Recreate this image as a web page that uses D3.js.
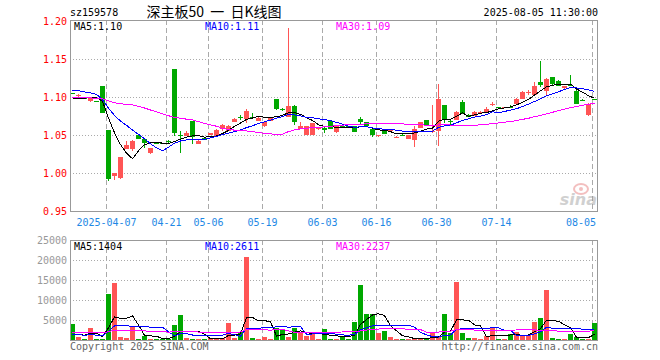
<!DOCTYPE html>
<html>
<head>
<meta charset="utf-8">
<script src="https://cdn.jsdelivr.net/npm/d3@7"></script>
<style>
  body { margin: 0; background: #fff; }
  text { font-family: "DejaVu Sans Mono", monospace; font-size: 10px; }
</style>
</head>
<body>
<div id="chart"></div>
<script>
// daily candles, sz159578, 2025-03-27 .. 2025-08-05
const open = [1.105, 1.1022, 1.0985, 1.0956, 1.0945, 1.1153, 1.0575, 0.9963, 0.9932, 1.0326,
  1.033, 1.0505, 1.0457, 1.0265, 1.0405, 1.0402, 1.0425, 1.1376, 1.050, 1.0488,
  1.0685, 1.039, 1.0465, 1.0505, 1.049, 1.0584, 1.0562, 1.0685, 1.0745, 1.0707,
  1.0738, 1.0694, 1.0624, 1.0698, 1.0982, 1.0842, 1.075, 1.089, 1.0584, 1.0505,
  1.0505, 1.0575, 1.060, 1.0694, 1.0533, 1.0625, 1.062, 1.0624, 1.0716, 1.0677,
  1.0585, 1.0495, 1.0572, 1.0553, 1.0475, 1.051, 1.045, 1.044, 1.0598, 1.070,
  1.054, 1.0559, 1.090, 1.0685, 1.0703, 1.0943, 1.0772, 1.076, 1.0798, 1.080,
  1.0905, 1.0872, 1.0868, 1.0877, 1.0917, 1.098, 1.105, 1.1035, 1.1197, 1.109,
  1.1262, 1.122, 1.1114, 1.1166, 1.1088, 1.097, 1.0772, 1.0972];
const high = [1.1055, 1.1045, 1.099, 1.0995, 1.0955, 1.1153, 1.0575, 1.001, 1.0215, 1.042,
  1.044, 1.051, 1.046, 1.0335, 1.0405, 1.0405, 1.044, 1.1376, 1.0555, 1.0555,
  1.0685, 1.0444, 1.047, 1.0535, 1.0585, 1.0645, 1.063, 1.0725, 1.077, 1.084,
  1.0795, 1.0735, 1.068, 1.074, 1.0982, 1.086, 1.1915, 1.0895, 1.0676, 1.0625,
  1.0665, 1.061, 1.061, 1.0695, 1.062, 1.063, 1.0625, 1.0625, 1.0747, 1.068,
  1.059, 1.0505, 1.0575, 1.0588, 1.049, 1.0512, 1.051, 1.0616, 1.068, 1.0705,
  1.0904, 1.1175, 1.0905, 1.0715, 1.0815, 1.096, 1.0775, 1.0815, 1.082, 1.087,
  1.0935, 1.0875, 1.0875, 1.0895, 1.0985, 1.108, 1.109, 1.1205, 1.148, 1.125,
  1.1265, 1.1225, 1.115, 1.129, 1.109, 1.098, 1.092, 1.0975];
const low = [1.104, 1.101, 1.0975, 1.0934, 1.0935, 1.079, 0.990, 0.991, 0.992, 1.032,
  1.029, 1.045, 1.0335, 1.025, 1.0395, 1.0395, 1.040, 1.0497, 1.027, 1.0485,
  1.0387, 1.038, 1.044, 1.050, 1.0485, 1.0553, 1.0555, 1.0678, 1.0707, 1.0663,
  1.0715, 1.069, 1.061, 1.0695, 1.0838, 1.0815, 1.0735, 1.064, 1.058, 1.050,
  1.050, 1.057, 1.053, 1.058, 1.053, 1.0615, 1.0605, 1.0545, 1.0646, 1.0625,
  1.0476, 1.048, 1.0515, 1.055, 1.0465, 1.050, 1.0445, 1.034, 1.0595, 1.063,
  1.0532, 1.0354, 1.066, 1.064, 1.070, 1.0785, 1.074, 1.0755, 1.0785, 1.0795,
  1.089, 1.0865, 1.0865, 1.0855, 1.0915, 1.0975, 1.103, 1.102, 1.114, 1.1026,
  1.1165, 1.115, 1.111, 1.1153, 1.091, 1.095, 1.076, 1.0965];
const close = [1.1045, 1.1027, 1.098, 1.099, 1.094, 1.080, 0.993, 1.0007, 1.0212, 1.0378,
  1.043, 1.0455, 1.040, 1.0335, 1.040, 1.0398, 1.042, 1.054, 1.0495, 1.0527,
  1.048, 1.043, 1.0445, 1.053, 1.0575, 1.064, 1.0628, 1.072, 1.074, 1.0816,
  1.0733, 1.0729, 1.0672, 1.0733, 1.0847, 1.0838, 1.089, 1.0685, 1.062, 1.062,
  1.0663, 1.0606, 1.0575, 1.0584, 1.0616, 1.062, 1.061, 1.055, 1.0672, 1.0629,
  1.0507, 1.050, 1.052, 1.0584, 1.048, 1.0505, 1.0507, 1.0585, 1.0677, 1.0637,
  1.0555, 1.0978, 1.0716, 1.068, 1.0812, 1.079, 1.0742, 1.0812, 1.0802, 1.0845,
  1.091, 1.0868, 1.0872, 1.0873, 1.098, 1.1075, 1.1065, 1.1153, 1.1153, 1.1245,
  1.117, 1.1153, 1.1144, 1.1162, 1.0917, 1.0965, 1.0917, 1.0968];
const volume = [4000, 830, 200, 3000, 200, 200, 11450, 14200, 750, 500,
  3250, 170, 1000, 170, 170, 170, 170, 3750, 6200, 500,
  170, 170, 170, 420, 420, 420, 4200, 580, 2100, 20650,
  580, 170, 820, 330, 3100, 2450, 830, 3100, 1900, 950,
  1450, 330, 2750, 330, 330, 660, 330, 4450, 13650, 6450,
  6450, 1820, 2230, 750, 250, 250, 330, 250, 250, 500,
  1820, 750, 6450, 1650, 14400, 1820, 500, 500, 330, 1000,
  3230, 250, 250, 1580, 2080, 1080, 1150, 4480, 5400, 12600,
  600, 300, 300, 1500, 800, 150, 250, 4320];

// sessions before the window, only used so the moving averages start right
const prevClose = [1.100, 1.106, 1.104, 1.105, 1.1037, 1.075, 1.070, 1.066, 1.062, 1.0627,
  1.100, 1.108, 1.112, 1.115, 1.118, 1.116, 1.115, 1.090, 1.085, 1.0804,
  1.108, 1.112, 1.114, 1.1117, 1.150, 1.104, 1.098, 1.095, 1.094];
const prevVol = [1800, 2600, 3100, 1500, 2200, 2900, 1700, 2400, 3300, 2000,
  1600, 2500, 2800, 1900, 2300, 2100, 2700, 1800, 2400, 2400,
  1200, 1800, 1500, 1400, 1600, 600, 700, 500, 600];

const tickIdx = [6, 16, 23, 32, 42, 51, 61, 71, 87];
const tickLabel = ["2025-04-07", "04-21", "05-06", "05-19", "06-03", "06-16", "06-30", "07-14", "08-05"];
const priceTicks = [0.95, 1.00, 1.05, 1.10, 1.15, 1.20];
const volTicks = [5000, 10000, 15000, 20000, 25000];
const maPeriods = [5, 10, 30];
const maColors = ["#000", "#0000ff", "#ff00ff"];
const priceMaText = ["1.10", "1.11", "1.09"];
const volMaText = ["1404", "2611", "2237"];

const RED = "#ff5555", GREEN = "#00a800";
const left = 70, right = 598;
const n = close.length;

var svg = d3.select("#chart").append("svg")
  .attr("width", 660)
  .attr("height", 360);

var x = d3.scaleBand()
  .domain(d3.range(n))
  .range([left, left + 6 * n - 1])
  .paddingInner(1 / 6);

var y = d3.scaleLinear().domain([0.95, 1.20]).range([211.3, 21.3]);
var yv = d3.scaleLinear().domain([0, 25000]).range([340, 240]);

// moving average over the window, using earlier sessions where needed
function movingAvg(hist, vals, k) {
  var all = hist.concat(vals);
  var off = hist.length;
  return vals.map((d, i) => d3.mean(all.slice(off + i - k + 1, off + i + 1)));
}

function crisp(v) { return Math.round(v) + 0.5; }

// ---------- grid ----------
function drawGrid(top, bottom, yScale, ticks) {
  var g = svg.append("g").attr("shape-rendering", "crispEdges");
  g.selectAll(".h").data(ticks).enter().append("line")
    .attr("x1", left).attr("x2", right)
    .attr("y1", d => crisp(yScale(d))).attr("y2", d => crisp(yScale(d)))
    .attr("stroke", "#aaa")
    .attr("stroke-dasharray", "1,2");
  g.selectAll(".v").data(tickIdx).enter().append("line")
    .attr("x1", d => x(d) + 0.5).attr("x2", d => x(d) + 0.5)
    .attr("y1", top).attr("y2", bottom)
    .attr("stroke", "#aaa")
    .attr("stroke-dasharray", "5,3");
}
drawGrid(20, 211, y, priceTicks.slice(1, -1));
drawGrid(240, 340, yv, volTicks.slice(0, -1));

// ---------- candles ----------
var candles = svg.append("g").attr("shape-rendering", "crispEdges");
var idx = d3.range(n);
var color = i => close[i] >= open[i] ? RED : GREEN;

candles.selectAll("line").data(idx).enter().append("line")
  .attr("x1", i => x(i) + 2.5).attr("x2", i => x(i) + 2.5)
  .attr("y1", i => y(high[i])).attr("y2", i => y(low[i]))
  .attr("stroke", color);

candles.selectAll("rect").data(idx).enter().append("rect")
  .attr("x", i => x(i))
  .attr("y", i => Math.round(y(Math.max(open[i], close[i]))))
  .attr("width", x.bandwidth())
  .attr("height", i => Math.max(1, Math.round(Math.abs(y(open[i]) - y(close[i])))))
  .attr("fill", color);

// ---------- volume bars ----------
svg.append("g").attr("shape-rendering", "crispEdges")
  .selectAll("rect").data(idx).enter().append("rect")
  .attr("x", i => x(i))
  .attr("y", i => Math.round(yv(volume[i])))
  .attr("width", x.bandwidth())
  .attr("height", i => 340 - Math.round(yv(volume[i])))
  .attr("fill", color);

// ---------- moving average lines ----------
function drawMA(hist, vals, yScale) {
  maPeriods.forEach(function(k, j) {
    var ma = movingAvg(hist, vals, k);
    var line = d3.line()
      .x((d, i) => x(i) + 2.5)
      .y(d => yScale(d));
    svg.append("path")
      .attr("d", line(ma))
      .attr("fill", "none")
      .attr("stroke", maColors[j])
      .attr("stroke-width", 1)
      .attr("shape-rendering", "crispEdges");
  });
}
drawMA(prevClose, close, y);
drawMA(prevVol, volume, yv);

// ---------- frames ----------
svg.append("rect")
  .attr("x", 70.5).attr("y", 20.5).attr("width", 527).attr("height", 191)
  .attr("fill", "none").attr("stroke", "#999").attr("shape-rendering", "crispEdges");
svg.append("rect")
  .attr("x", 70.5).attr("y", 240.5).attr("width", 527).attr("height", 100)
  .attr("fill", "none").attr("stroke", "#999").attr("shape-rendering", "crispEdges");

// ---------- axis labels ----------
svg.selectAll(".py").data(priceTicks).enter().append("text")
  .attr("x", 67).attr("y", d => y(d) + 4)
  .attr("text-anchor", "end")
  .attr("fill", "#ff0000")
  .text(d => d.toFixed(2));

svg.selectAll(".vy").data(volTicks).enter().append("text")
  .attr("x", 67).attr("y", d => yv(d) + 4)
  .attr("text-anchor", "end")
  .attr("fill", "#999")
  .text(d => d);

svg.selectAll(".xl").data(tickIdx).enter().append("text")
  .attr("x", function(d, i) {
    var half = tickLabel[i].length * 3.01;
    return Math.min(x(d) + 0.5, 596 - half);
  })
  .attr("y", 226)
  .attr("text-anchor", "middle")
  .attr("fill", "#1e88e5")
  .text((d, i) => tickLabel[i]);

// ---------- legends ----------
var maX = [74, 205, 336];
maPeriods.forEach(function(k, j) {
  svg.append("text").attr("x", maX[j]).attr("y", 30)
    .attr("fill", maColors[j]).text("MA" + k + ":" + priceMaText[j]);
  svg.append("text").attr("x", maX[j]).attr("y", 250)
    .attr("fill", maColors[j]).text("MA" + k + ":" + volMaText[j]);
});

// ---------- header / footer ----------
svg.append("text").attr("x", 70).attr("y", 16).attr("fill", "#000").text("sz159578");
svg.append("text").attr("x", 214).attr("y", 17)
  .attr("text-anchor", "middle")
  .style("font-family", "'Noto Sans CJK SC', sans-serif")
  .style("font-size", "14px")
  .style("white-space", "pre")
  .text("深主板50  一  日K线图");
svg.append("text").attr("x", 598).attr("y", 16)
  .attr("text-anchor", "end").text("2025-08-05 11:30:00");

svg.append("text").attr("x", 70).attr("y", 350).attr("fill", "#666").text("Copyright 2025 SINA.COM");
svg.append("text").attr("x", 598).attr("y", 350)
  .attr("text-anchor", "end").attr("fill", "#666").text("http://finance.sina.com.cn");

// sina watermark
var logo = svg.append("g").attr("opacity", 0.45);
logo.append("ellipse").attr("cx", 581).attr("cy", 189).attr("rx", 7).attr("ry", 5)
  .attr("fill", "none").attr("stroke", "#e57373").attr("stroke-width", 2);
logo.append("circle").attr("cx", 581).attr("cy", 189).attr("r", 2).attr("fill", "#e57373");
logo.append("text").attr("x", 597).attr("y", 205)
  .attr("text-anchor", "end")
  .style("font-family", "'DejaVu Sans', sans-serif")
  .style("font-size", "16px").style("font-style", "italic").style("font-weight", "bold")
  .attr("fill", "#999").text("sina");
</script>
</body>
</html>
